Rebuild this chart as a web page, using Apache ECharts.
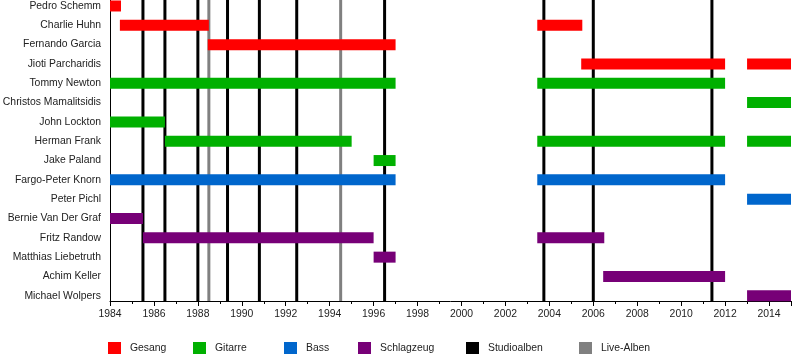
<!DOCTYPE html>
<html>
<head>
<meta charset="utf-8">
<script src="https://cdn.jsdelivr.net/npm/echarts@6/dist/echarts.min.js"></script>
<style>html,body{margin:0;padding:0;background:#fff}#c{width:800px;height:360px}</style>
</head>
<body>
<div id="c"></div>
<script>
var members = ["Pedro Schemm","Charlie Huhn","Fernando Garcia","Jioti Parcharidis","Tommy Newton","Christos Mamalitsidis","John Lockton","Herman Frank","Jake Paland","Fargo-Peter Knorn","Peter Pichl","Bernie Van Der Graf","Fritz Randow","Matthias Liebetruth","Achim Keller","Michael Wolpers"];
// [memberIndex, start, end]
var gesang = [[0,1984,1984.5],[1,1984.45,1988.5],[1,2003.45,2005.5],[2,1988.45,1997],[3,2005.45,2012],[3,2013,2015]];
var gitarre = [[4,1984,1997],[4,2003.45,2012],[5,2013,2015],[6,1984,1986.5],[7,1986.5,1995],[7,2003.45,2012],[7,2013,2015],[8,1996,1997]];
var bass = [[9,1984,1997],[9,2003.45,2012],[10,2013,2015]];
var schlagzeug = [[11,1984,1985.5],[12,1985.5,1996],[12,2003.45,2006.5],[13,1996,1997],[14,2006.45,2012],[15,2013,2015]];
var studioalben = [1985.5,1986.5,1988.0,1989.35,1990.8,1992.5,1996.5,2003.75,2006.0,2011.4];
var liveAlben = [1988.5,1994.5];
var yearMin = 1984, yearMax = 2015;

var FONT = 'Liberation Sans, Arial';
var FS = 10.4;
var chart = echarts.init(document.getElementById('c'), null, {renderer:'canvas'});

function barSeries(name, data, color){
  return {
    name:name, type:'custom', data:data, z:3, clip:false,
    itemStyle:{color:color},
    encode:{x:[1,2], y:0},
    renderItem:function(params, api){
      var y = api.value(0), s = api.value(1), e = api.value(2);
      var p1 = api.coord([s,y]), p2 = api.coord([e,y]);
      var h = 11;
      return {type:'rect', shape:{x:p1[0], y:p1[1]-h/2, width:p2[0]-p1[0], height:h}, style:{fill:color}};
    }
  };
}
function lineSeries(name, data, color){
  return {
    name:name, type:'custom', data:data.map(function(v){return [v];}), z:2,
    itemStyle:{color:color},
    encode:{x:0},
    renderItem:function(params, api){
      var x = api.coord([api.value(0), 0])[0];
      var cs = params.coordSys;
      return {type:'line', shape:{x1:x, y1:cs.y, x2:x, y2:cs.y+cs.height}, style:{stroke:color, lineWidth:3}};
    }
  };
}
var legendPos = [["Gesang",108],["Gitarre",193],["Bass",284],["Schlagzeug",358],["Studioalben",466],["Live-Alben",579]];
var legends = legendPos.map(function(p){
  return {data:[p[0]], left:p[1], top:342, padding:0, icon:'rect', itemWidth:13, itemHeight:12, selectedMode:false,
    textStyle:{fontFamily:FONT, fontSize:FS, color:'#222', padding:[0,0,0,4]}};
});

chart.setOption({
  animation:false,
  backgroundColor:'#fff',
  grid:{left:110, right:9, top:0, bottom:59, containLabel:false, outerBoundsMode:'none'},
  legend:legends,
  xAxis:{type:'value', min:yearMin, max:yearMax, interval:2,
    axisLine:{show:true, onZero:false, lineStyle:{color:'#000', width:1}},
    axisTick:{show:true, length:5, lineStyle:{color:'#000'}},
    minorTick:{show:true, splitNumber:2, length:3, lineStyle:{color:'#000'}},
    splitLine:{show:false},
    axisLabel:{showMaxLabel:false, margin:8, fontFamily:FONT, fontSize:FS, color:'#222',
      formatter:function(v){return String(v);}}
  },
  yAxis:{type:'value', inverse:true, min:-0.31, max:15.27,
    axisLine:{show:true, lineStyle:{color:'#000', width:1}},
    axisTick:{show:false},
    splitLine:{show:false},
    axisLabel:{customValues:members.map(function(m,i){return i;}), margin:9,
      formatter:function(v){return members[Math.round(v)] || '';},
      fontFamily:FONT, fontSize:FS, color:'#222'}
  },
  series:[
    barSeries('Gesang', gesang, '#ff0000'),
    barSeries('Gitarre', gitarre, '#00b000'),
    barSeries('Bass', bass, '#0066cc'),
    barSeries('Schlagzeug', schlagzeug, '#770077'),
    lineSeries('Studioalben', studioalben, '#000000'),
    lineSeries('Live-Alben', liveAlben, '#808080')
  ]
});
</script>
</body>
</html>
